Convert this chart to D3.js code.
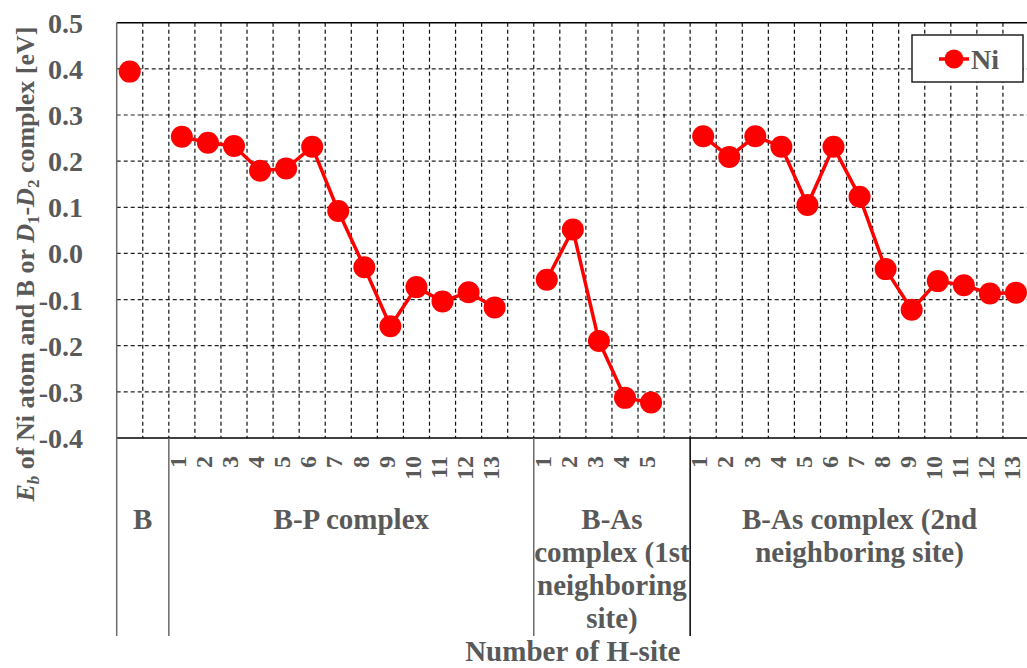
<!DOCTYPE html>
<html>
<head>
<meta charset="utf-8">
<script src="https://cdn.jsdelivr.net/npm/d3@7"></script>
<style>
  html, body { margin: 0; padding: 0; background: #fff; }
  svg { display: block; }
  text { font-family: "Liberation Serif", "Times New Roman", serif; font-weight: bold; fill: #595959; }
</style>
</head>
<body>
<svg id="chart" width="1027" height="668"></svg>
<script>
// Category groups along the x axis and their (wrapped) labels
const groupNames = ["B", "B-P complex", "B-As complex (1st neighboring site)", "B-As complex (2nd neighboring site)"];
const groupLabelLines = [
  ["B"],
  ["B-P complex"],
  ["B-As", "complex (1st", "neighboring", "site)"],
  ["B-As complex (2nd", "neighboring site)"]
];

// H-site numbers inside each group ("" = spacer slot)
const sitesB     = ["", ""];
const sitesBP    = ["1","2","3","4","5","6","7","8","9","10","11","12","13",""];
const sitesBAs1  = ["1","2","3","4","5",""];
const sitesBAs2  = ["1","2","3","4","5","6","7","8","9","10","11","12","13"];

// Binding energy of Ni (eV) for each slot
const niB    = [0.394, null];
const niBP   = [0.253, 0.240, 0.233, 0.179, 0.184, 0.231, 0.092, -0.030, -0.158, -0.073, -0.104, -0.084, -0.117, null];
const niBAs1 = [-0.057, 0.052, -0.190, -0.313, -0.323, null];
const niBAs2 = [0.254, 0.209, 0.254, 0.231, 0.105, 0.231, 0.123, -0.034, -0.122, -0.060, -0.069, -0.087, -0.085];

const yTicks = [-0.4, -0.3, -0.2, -0.1, 0.0, 0.1, 0.2, 0.3, 0.4, 0.5];
const seriesName = "Ni";

const groupSites  = [sitesB, sitesBP, sitesBAs1, sitesBAs2];
const groupValues = [niB, niBP, niBAs1, niBAs2];

const slots = [];
groupSites.forEach((sites, g) => {
  sites.forEach((label, i) => {
    slots.push({ key: g + "-" + i, group: g, label: label, value: groupValues[g][i] });
  });
});

const svg = d3.select("#chart");
const W = 1027, H = 668;
const plot = { left: 116.7, right: 1029, top: 22.7, bottom: 438 };
const catBottom = 636;

svg.append("rect").attr("width", W).attr("height", H).attr("fill", "#fff");

const x = d3.scaleBand()
  .domain(slots.map(d => d.key))
  .range([plot.left, plot.right])
  .paddingInner(0).paddingOuter(0);

const y = d3.scaleLinear().domain([-0.4, 0.5]).range([plot.bottom, plot.top]);

// Horizontal dashed gridlines
svg.append("g").selectAll("line")
  .data(yTicks.filter(t => t > -0.4 && t < 0.5))
  .join("line")
  .attr("x1", plot.left).attr("x2", plot.right)
  .attr("y1", d => y(d)).attr("y2", d => y(d))
  .attr("stroke", "#222").attr("stroke-width", 1.2)
  .attr("stroke-dasharray", "4,3");

// Vertical dashed gridlines at every slot boundary
svg.append("g").selectAll("line")
  .data(slots.slice(1))
  .join("line")
  .attr("x1", d => x(d.key)).attr("x2", d => x(d.key))
  .attr("y1", plot.top).attr("y2", plot.bottom)
  .attr("stroke", "#111").attr("stroke-width", 1.2)
  .attr("stroke-dasharray", "4,3");

// Plot frame: top and bottom lines
svg.append("line")
  .attr("x1", plot.left).attr("x2", plot.right)
  .attr("y1", plot.top).attr("y2", plot.top)
  .attr("stroke", "#000").attr("stroke-width", 1.5);
svg.append("line")
  .attr("x1", plot.left).attr("x2", plot.right)
  .attr("y1", plot.bottom).attr("y2", plot.bottom)
  .attr("stroke", "#000").attr("stroke-width", 1.5);

// Left axis line, continuing down through the category area
svg.append("line")
  .attr("x1", plot.left).attr("x2", plot.left)
  .attr("y1", plot.top).attr("y2", catBottom)
  .attr("stroke", "#6a6a6a").attr("stroke-width", 1.5);

// Group separators in the category area
const groupStarts = groupSites.map((s, g) => g).slice(1).map(g => x(g + "-0"));
svg.append("g").selectAll("line")
  .data(groupStarts)
  .join("line")
  .attr("x1", d => d).attr("x2", d => d)
  .attr("y1", plot.bottom).attr("y2", catBottom)
  .attr("stroke", (d, i) => i === 2 ? "#000" : "#6a6a6a").attr("stroke-width", 1.5);

// Y axis tick labels
const yAxis = d3.axisLeft(y).tickValues(yTicks).tickSize(0).tickPadding(0)
  .tickFormat(d => d.toFixed(1));
const yAxisG = svg.append("g").attr("transform", `translate(${83},0)`).call(yAxis);
yAxisG.select(".domain").remove();
yAxisG.selectAll("text")
  .attr("font-size", 28).attr("fill", "#595959")
  .attr("dy", "0.34em").attr("x", 0);
yAxisG.attr("font-family", null).attr("font-size", null);

// X tick labels (site numbers), rotated
svg.append("g").selectAll("text")
  .data(slots.filter(d => d.label !== ""))
  .join("text")
  .attr("transform", d => `translate(${x(d.key) + x.bandwidth() / 2 - 3},456) rotate(-90)`)
  .attr("text-anchor", "end")
  .attr("dy", "0.3em")
  .attr("font-size", 24)
  .text(d => d.label);

// Group labels
groupLabelLines.forEach((lines, g) => {
  const keys = slots.filter(s => s.group === g).map(s => s.key);
  const x0 = x(keys[0]);
  const x1 = x(keys[keys.length - 1]) + x.bandwidth();
  const cx = (x0 + x1) / 2;
  const t = svg.append("text")
    .attr("x", cx).attr("y", 529)
    .attr("text-anchor", "middle")
    .attr("font-size", 29);
  lines.forEach((ln, i) => {
    t.append("tspan").attr("x", cx).attr("dy", i === 0 ? 0 : 33).text(ln);
  });
});

// X axis title
svg.append("text")
  .attr("x", (plot.left + plot.right) / 2).attr("y", 661)
  .attr("text-anchor", "middle").attr("font-size", 29)
  .text("Number of H-site");

// Y axis title with italic symbols and subscripts
const yt = svg.append("text")
  .attr("transform", "translate(34,264) rotate(-90)")
  .attr("text-anchor", "middle")
  .attr("font-size", 26);
yt.append("tspan").attr("font-style", "italic").text("E");
yt.append("tspan").attr("font-style", "italic").attr("font-size", 17).attr("dy", 5).text("b");
yt.append("tspan").attr("dy", -5).text(" of Ni atom and B or ");
yt.append("tspan").attr("font-style", "italic").text("D");
yt.append("tspan").attr("font-size", 17).attr("dy", 5).text("1");
yt.append("tspan").attr("dy", -5).text("-");
yt.append("tspan").attr("font-style", "italic").text("D");
yt.append("tspan").attr("font-size", 17).attr("dy", 5).text("2");
yt.append("tspan").attr("dy", -5).text(" complex [eV]");

// Series line (breaks at empty slots) and markers
const line = d3.line()
  .defined(d => d.value != null)
  .x(d => x(d.key) + x.bandwidth() / 2)
  .y(d => y(d.value));

svg.append("path")
  .datum(slots)
  .attr("d", line)
  .attr("fill", "none")
  .attr("stroke", "#ff0000")
  .attr("stroke-width", 3.5)
  .attr("stroke-linejoin", "round");

svg.append("g").selectAll("circle")
  .data(slots.filter(d => d.value != null))
  .join("circle")
  .attr("cx", d => x(d.key) + x.bandwidth() / 2)
  .attr("cy", d => y(d.value))
  .attr("r", 11)
  .attr("fill", "#ff0000");

// Legend
const lg = svg.append("g");
lg.append("rect")
  .attr("x", 912).attr("y", 35).attr("width", 111).attr("height", 47)
  .attr("fill", "#fff").attr("stroke", "#222").attr("stroke-width", 1.5);
lg.append("line")
  .attr("x1", 939).attr("x2", 969).attr("y1", 59).attr("y2", 59)
  .attr("stroke", "#ff0000").attr("stroke-width", 3.5);
lg.append("circle").attr("cx", 954).attr("cy", 59).attr("r", 9.5).attr("fill", "#ff0000");
lg.append("text").attr("x", 971).attr("y", 68.5).attr("font-size", 28).text(seriesName);
</script>
</body>
</html>
